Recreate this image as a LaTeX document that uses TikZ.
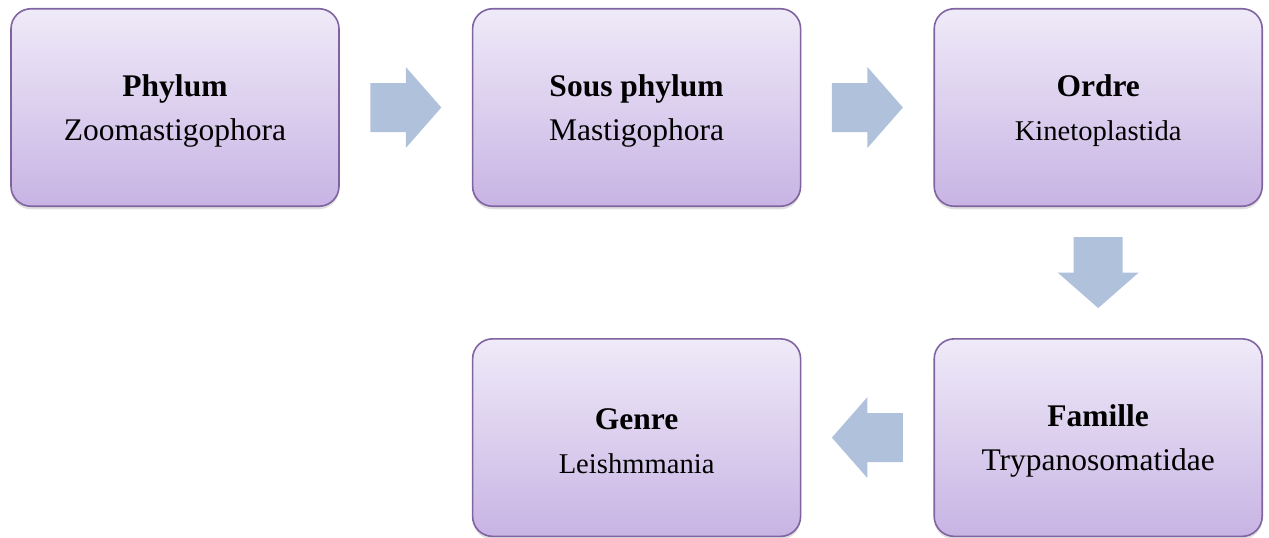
\documentclass[tikz,border=0pt]{standalone}
\usepackage{fontspec}
\setmainfont{Liberation Serif}
\usetikzlibrary{positioning,calc,shadows}
\definecolor{taxonline}{HTML}{8064A2}
\definecolor{taxontop}{HTML}{EFEAF8}
\definecolor{taxonbottom}{HTML}{C8B4E4}
\definecolor{flowblue}{HTML}{B0C1DC}
\newcommand{\rankname}[1]{\rule{0pt}{28pt}\textbf{#1}}
\newcommand{\subrank}[1]{{\fontsize{28.6}{44}\selectfont #1}}
\tikzset{
    taxon/.style =  {
                        rectangle, rounded corners=20pt, draw=taxonline, line width=1.6pt,
                        top color=taxontop, bottom color=taxonbottom,
                        minimum width=328pt, minimum height=197.5pt, inner sep=0pt,
                        text centered, align=center,
                        drop shadow={shadow xshift=0pt, shadow yshift=-3pt, opacity=0.25},
                        font=\fontsize{31.5}{44}\selectfont
                    },
    flowarrow/.pic = {
                        \fill[flowblue] (-35.5pt,-24.5pt) -- (0pt,-24.5pt) -- (0pt,-40.5pt)
                            -- (35.5pt,0pt) -- (0pt,40.5pt) -- (0pt,24.5pt)
                            -- (-35.5pt,24.5pt) -- cycle;
                    }
}
\begin{document}
\begin{tikzpicture}[node distance=131pt and 132pt]
    \useasboundingbox (0pt,0pt) rectangle (1269pt,-538pt);

    \node (phylum)      [taxon] at (175pt,-107.5pt)     {\rankname{Phylum}\\Zoomastigophora};
    \node (sousphylum)  [taxon, right=of phylum]        {\rankname{Sous phylum}\\Mastigophora};
    \node (ordre)       [taxon, right=of sousphylum]    {\rankname{Ordre}\\\subrank{Kinetoplastida}};
    \node (famille)     [taxon, below=of ordre]         {\rankname{Famille}\\Trypanosomatidae};
    \node (genre)       [taxon, left=of famille]        {\rankname{Genre}\\\subrank{Leishmmania}};

    \pic at ($(phylum.east)!0.5!(sousphylum.west)$) {flowarrow};
    \pic at ($(sousphylum.east)!0.5!(ordre.west)$) {flowarrow};
    \pic[rotate=-90] at ($(ordre.south)!0.5!(famille.north)$) {flowarrow};
    \pic[rotate=180] at ($(famille.west)!0.5!(genre.east)$) {flowarrow};
\end{tikzpicture}
\end{document}
